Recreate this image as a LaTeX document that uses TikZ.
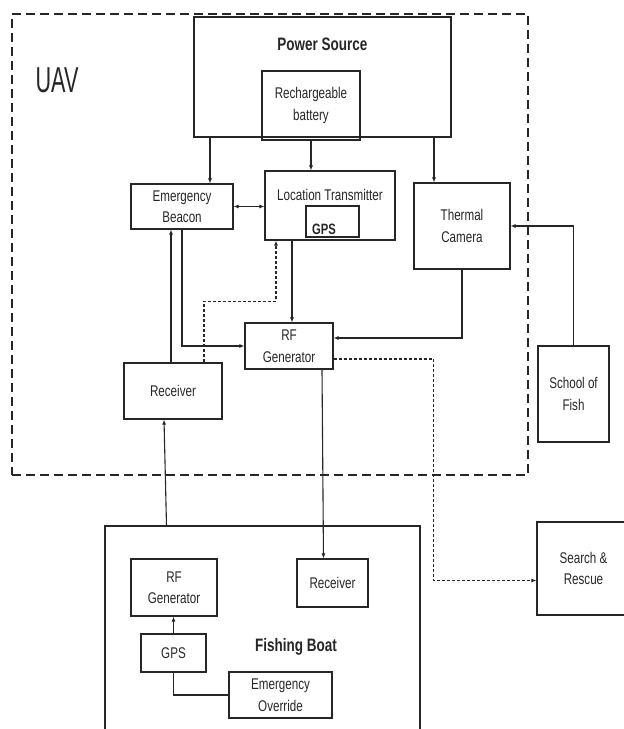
\documentclass[tikz,border=0pt]{standalone}
\usepackage{fontspec}
\setmainfont{Liberation Sans}[FakeStretch=0.75]
\newfontfamily\uavfont{Liberation Sans}[FakeStretch=0.6]
\usetikzlibrary{arrows.meta}

\begin{document}
\begin{tikzpicture}[x=1pt,y=-1pt,
    txt/.style={text=black!85, font=\fontsize{15.5}{21.5}\selectfont},
    box/.style={txt, draw=black!85, line width=1.1pt, inner sep=0pt, align=center},
    title/.style={text=black!85, font=\fontsize{18}{22}\selectfont\bfseries},
    arr/.style={draw=black!85, line width=1.1pt, -{Latex[length=5pt,width=4pt]}},
    darr/.style={arr, dash pattern=on 3pt off 2pt}]
    \useasboundingbox (0,0) rectangle (624,729);
    % UAV
    \node[draw=black!85, line width=2.4pt, dash pattern=on 9pt off 5pt,
      minimum width=516pt, minimum height=461pt] (uav) at (270,244.5) {};
    \node[text=black!85, font=\uavfont\fontsize{36}{40}\selectfont] (uavtext) at (57,80) {UAV};
    \node[box, minimum width=257pt, minimum height=120pt] (ps) at (322.5,77) {};
    \node[title] (pstext) at (322.5,44) {Power Source};
    \node[box, minimum width=98pt, minimum height=69pt] (bat) at (311,105.5) {Rechargeable\\battery};
    \node[box, minimum width=102pt, minimum height=45pt] (eb) at (182,206.5) {Emergency\\Beacon};
    \node[box, minimum width=130pt, minimum height=69pt] (lt) at (330,205.5) {};
    \node[txt] (lttext) at (330,195) {Location Transmitter};
    \node[box, minimum width=53pt, minimum height=31pt] (gps) at (332.5,221.5) {};
    \node[text=black!85, font=\fontsize{15}{18}\selectfont\bfseries] (gpstext) at (324,229) {GPS};
    \node[box, minimum width=96pt, minimum height=86pt] (th) at (462,226) {Thermal\\Camera};
    \node[box, minimum width=88pt, minimum height=46pt] (rf) at (289,346) {RF\\Generator};
    \node[box, minimum width=98pt, minimum height=56pt] (rx) at (173,391) {Receiver};
    % outside
    \node[box, minimum width=71pt, minimum height=96pt] (fish) at (573.5,394) {School of\\Fish};
    \node[box, minimum width=93pt, minimum height=93pt] (sar) at (583.5,568.5) {Search \&\\Rescue};
    % Fishing boat
    \node[box, minimum width=315pt, minimum height=214pt] (boat) at (262.5,633) {};
    \node[title] (boattext) at (296,647) {Fishing Boat};
    \node[box, minimum width=86pt, minimum height=57pt] (rfb) at (174,587.5) {RF\\Generator};
    \node[box, minimum width=71pt, minimum height=48pt] (rxb) at (332.5,583) {Receiver};
    \node[box, minimum width=65pt, minimum height=38pt] (gpsb) at (173.5,653) {GPS};
    \node[box, minimum width=103pt, minimum height=46pt] (eo) at (280.5,695) {Emergency\\Override};
    %
    \draw[arr] ([xshift=28pt]eb.north |- ps.south) -- ([xshift=28pt]eb.north);
    \draw[arr] (bat.south) -- (bat.south |- lt.north);
    \draw[arr] ([xshift=-28pt]th.north |- ps.south) -- ([xshift=-28pt]th.north);
    \draw[arr, {Latex[length=5pt,width=4pt]}-{Latex[length=5pt,width=4pt]}] (eb.east) -- (eb.east -| lt.west);
    \draw[arr] (fish.north) |- (th.east);
    \draw[arr] ([xshift=-2pt]rx.north) -- ([xshift=-2pt]rx.north |- eb.south);
    \draw[arr] (eb.south) |- (rf.west);
    \draw[darr] ([xshift=31pt]rx.north) -- ++(0,-61) -| ([xshift=-54pt]lt.south);
    \draw[arr] ([xshift=-38pt]lt.south) -- ([xshift=-38pt]lt.south |- rf.north);
    \draw[arr] (th.south) |- ([yshift=8pt]rf.east);
    \draw[darr] ([yshift=-13pt]rf.east) -| ([xshift=-103pt,yshift=-12pt]sar.west)
      -- ([yshift=-12pt]sar.west);
    \draw[arr] ([xshift=33pt]rf.south) -- ([xshift=-9pt]rxb.north);
    \draw[arr] ([xshift=-96pt]boat.north) -- ([xshift=-9pt]rx.south);
    \draw[arr] (gpsb.north) -- (gpsb.north |- rfb.south);
    \draw[draw=black!85, line width=1.1pt] (gpsb.south) |- (eo.west);
\end{tikzpicture}
\end{document}
